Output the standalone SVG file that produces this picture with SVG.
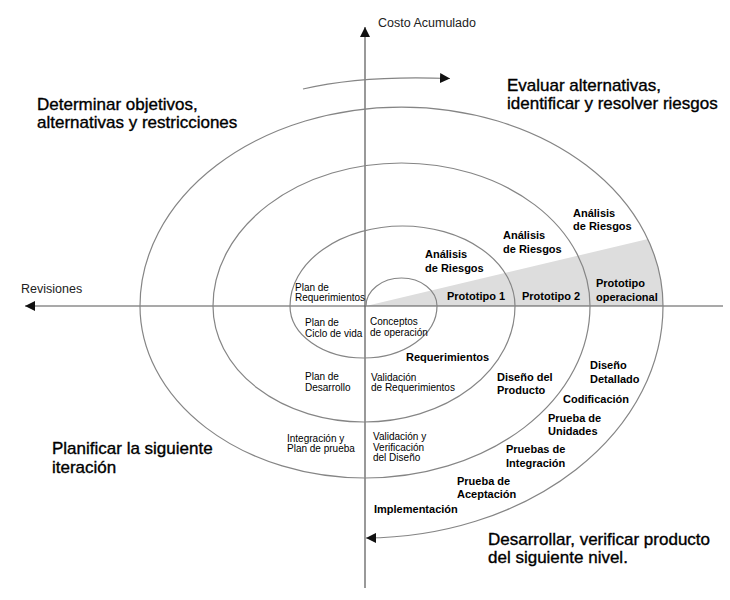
<svg xmlns="http://www.w3.org/2000/svg" width="730" height="600" viewBox="0 0 730 600">
<defs>
<marker id="ah" viewBox="0 0 10 10" refX="10" refY="5" markerWidth="10" markerHeight="10" markerUnits="userSpaceOnUse" orient="auto">
<path d="M0,0 L10,5 L0,10 Z" fill="#111"/>
</marker>
<style>
.axis{stroke:#555;stroke-width:1.2;fill:none}
.sp{stroke:#858585;stroke-width:1.2;fill:none}
.big{font-family:"Liberation Sans",Arial,sans-serif;font-size:17px;fill:#000;stroke:#000;stroke-width:0.35}
.lab{font-family:"Liberation Sans",Arial,sans-serif;font-size:11px;font-weight:bold;fill:#000}
.sm{font-family:"Liberation Sans",Arial,sans-serif;font-size:10px;fill:#000}
.ax{font-family:"Liberation Sans",Arial,sans-serif;font-size:12.5px;fill:#222}
</style>
</defs>
<rect width="730" height="600" fill="#fff"/>
<path id="wedge" d="M366,306 L648,239 A261.5 199 0 0 1 663 306 Z" fill="#dddddd"/>
<g id="connectors">
<line class="axis" x1="365" y1="588" x2="365" y2="27" marker-end="url(#ah)"/>
<line class="axis" x1="723" y1="306" x2="25" y2="306" marker-end="url(#ah)"/>
<path class="sp" d="M366,306 A35.5 28 0 0 1 437 306 A73.5 52 0 0 1 290 306 A112.5 80 0 0 1 515 306 A151 116 0 0 1 213 306 A188.5 143 0 0 1 590 306 A225 172 0 0 1 140 306 A261.5 199 0 0 1 663 306 A299 232 0 0 1 366 538" marker-end="url(#ah)"/>
<path class="sp" d="M303,89 Q362,75 450,78.5" marker-end="url(#ah)"/>
</g>
<g id="axis-labels">
<text class="ax" x="378" y="27">Costo Acumulado</text>
<text class="ax" x="21" y="293">Revisiones</text>
</g>
<g id="quadrant-labels">
<text class="big" x="37" y="110">Determinar objetivos,</text>
<text class="big" x="37" y="128">alternativas y restricciones</text>
<text class="big" x="507" y="91">Evaluar alternativas,</text>
<text class="big" x="507" y="109">identificar y resolver riesgos</text>
<text class="big" x="52" y="454">Planificar la siguiente</text>
<text class="big" x="52" y="473">iteración</text>
<text class="big" x="488" y="545">Desarrollar, verificar producto</text>
<text class="big" x="488" y="563">del siguiente nivel.</text>
</g>
<g id="plan-labels">
<text class="sm" x="295" y="291">Plan de</text>
<text class="sm" x="295" y="301">Requerimientos</text>
<text class="sm" x="305" y="326">Plan de</text>
<text class="sm" x="305" y="337">Ciclo de vida</text>
<text class="sm" x="370" y="325">Conceptos</text>
<text class="sm" x="370" y="336">de operación</text>
<text class="sm" x="305" y="380">Plan de</text>
<text class="sm" x="305" y="391">Desarrollo</text>
<text class="sm" x="371" y="381">Validación</text>
<text class="sm" x="371" y="391">de Requerimientos</text>
<text class="sm" x="287" y="442">Integración y</text>
<text class="sm" x="287" y="452">Plan de prueba</text>
<text class="sm" x="373" y="440">Validación y</text>
<text class="sm" x="373" y="451">Verificación</text>
<text class="sm" x="373" y="461">del Diseño</text>
</g>
<g id="phase-labels">
<text class="lab" x="425" y="258">Análisis</text>
<text class="lab" x="425" y="272">de Riesgos</text>
<text class="lab" x="503" y="239">Análisis</text>
<text class="lab" x="503" y="253">de Riesgos</text>
<text class="lab" x="573" y="217">Análisis</text>
<text class="lab" x="573" y="230">de Riesgos</text>
<text class="lab" x="447" y="300">Prototipo 1</text>
<text class="lab" x="522" y="300">Prototipo 2</text>
<text class="lab" x="596" y="287">Prototipo</text>
<text class="lab" x="596" y="301">operacional</text>
<text class="lab" x="406" y="361">Requerimientos</text>
<text class="lab" x="497" y="381">Diseño del</text>
<text class="lab" x="497" y="394">Producto</text>
<text class="lab" x="590" y="369">Diseño</text>
<text class="lab" x="590" y="383">Detallado</text>
<text class="lab" x="563" y="403">Codificación</text>
<text class="lab" x="548" y="422">Prueba de</text>
<text class="lab" x="548" y="435">Unidades</text>
<text class="lab" x="506" y="453">Pruebas de</text>
<text class="lab" x="506" y="467">Integración</text>
<text class="lab" x="457" y="485">Prueba de</text>
<text class="lab" x="457" y="498">Aceptación</text>
<text class="lab" x="374" y="513">Implementación</text>
</g>
</svg>
